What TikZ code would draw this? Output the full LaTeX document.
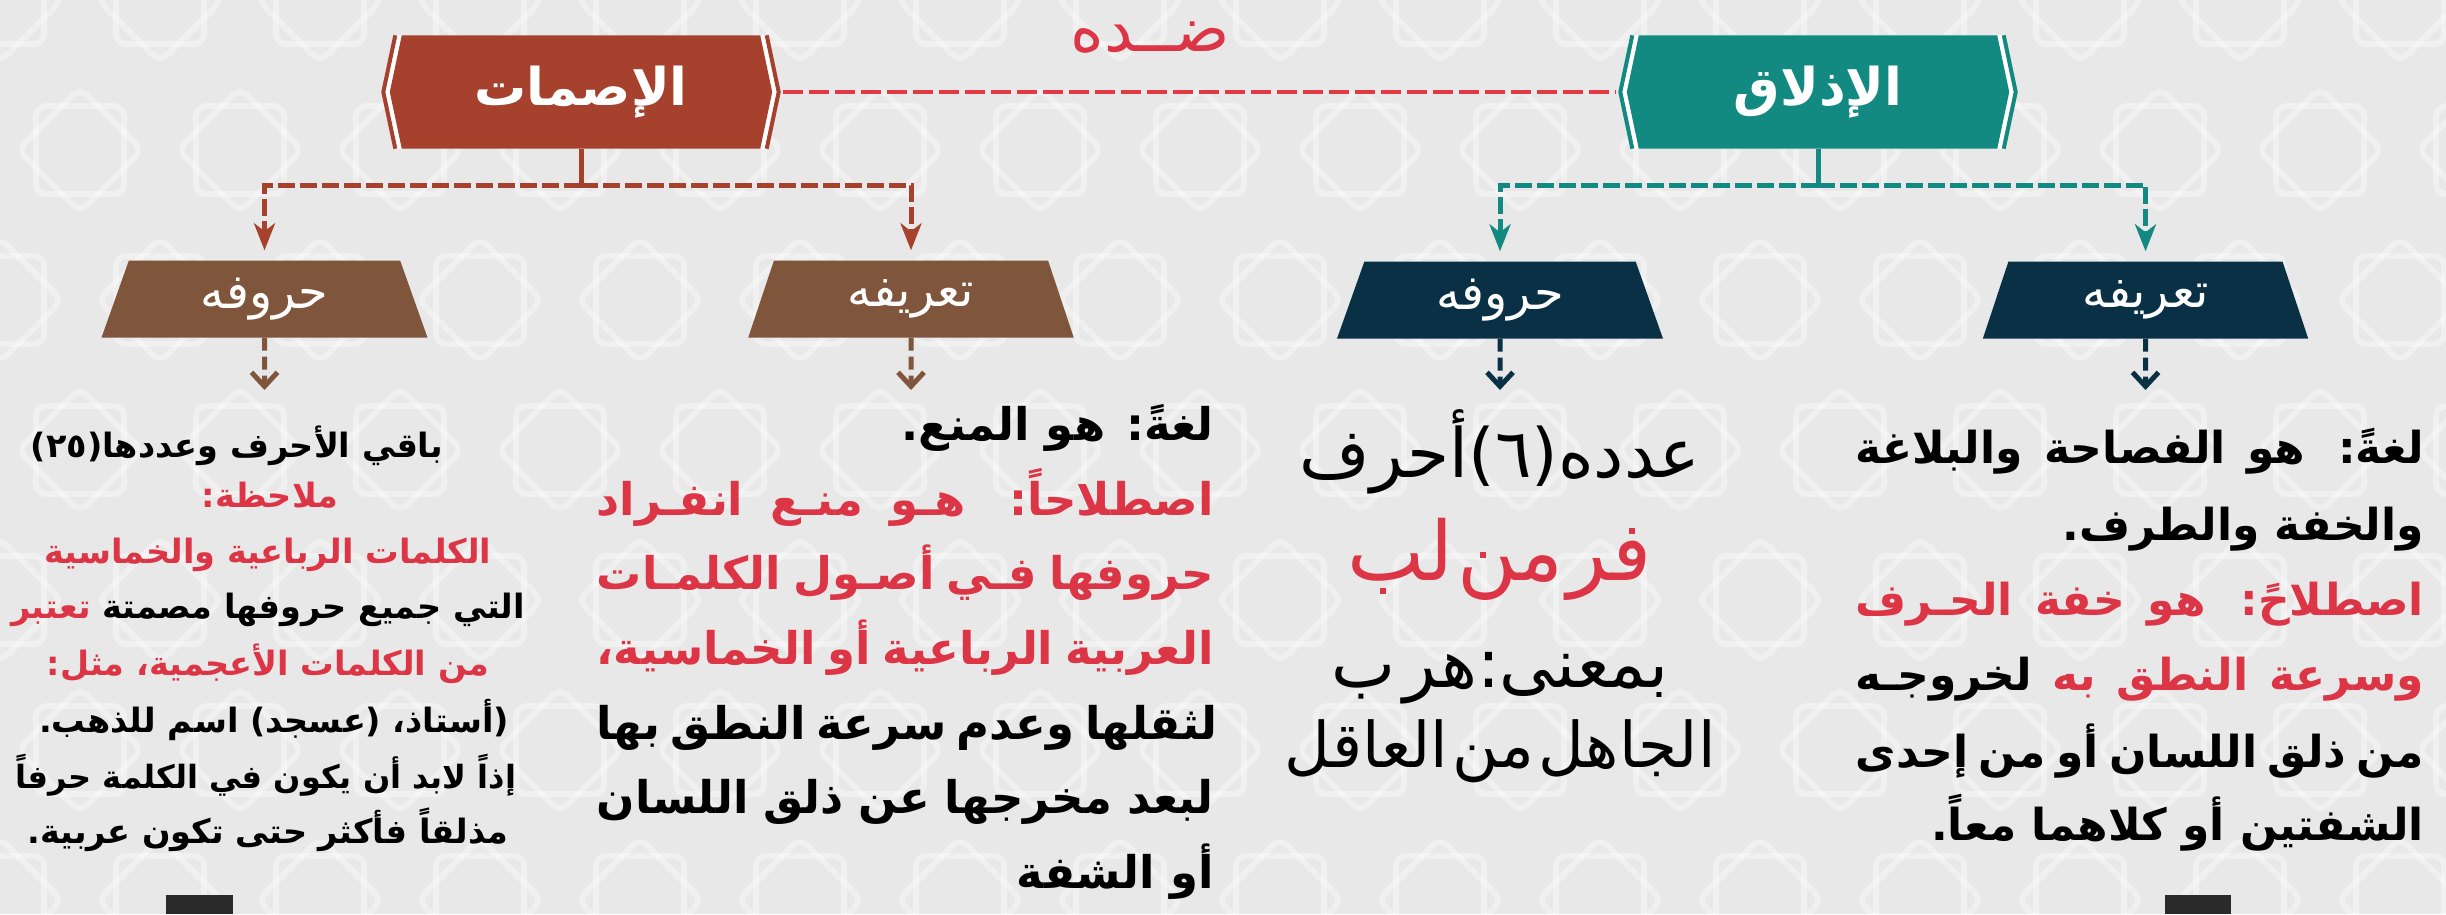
\documentclass[tikz,border=0pt]{standalone}
\usepackage{fontspec}
\usetikzlibrary{arrows.meta,shapes.geometric,backgrounds,calc}
\TeXXeTstate=1
\newfontfamily\arb[Script=Arabic]{DejaVu Sans}
\definecolor{ismatc}{HTML}{A5412C}
\definecolor{idhc}{HTML}{128A82}
\definecolor{brownc}{HTML}{7F553B}
\definecolor{navyc}{HTML}{0A3046}
\definecolor{redt}{HTML}{DC3545}
\definecolor{redl}{HTML}{E03A45}
\definecolor{bgc}{HTML}{E8E8E8}
\definecolor{darkc}{HTML}{2A2A2A}
\newcommand\RL[1]{\beginR #1\endR}
\newcommand\JL[2]{\hbox to #1{\beginR #2\endR}}
\newcommand\hexbox[2]{%
  \draw[#2, line width=4pt] ([xshift=-6.5pt]#1.north west) -- ([xshift=-18.5pt]#1.west) -- ([xshift=-6.5pt]#1.south west);
  \draw[white, line width=4pt] ([xshift=-2pt]#1.north west) -- ([xshift=-14pt]#1.west) -- ([xshift=-2pt]#1.south west);
  \draw[#2, line width=4pt] ([xshift=6.5pt]#1.north east) -- ([xshift=18.5pt]#1.east) -- ([xshift=6.5pt]#1.south east);
  \draw[white, line width=4pt] ([xshift=2pt]#1.north east) -- ([xshift=14pt]#1.east) -- ([xshift=2pt]#1.south east);
  \fill[#2] (#1.north west) -- (#1.north east) -- ([xshift=12pt]#1.east) -- (#1.south east) -- (#1.south west) -- ([xshift=-12pt]#1.west) -- cycle;}
\tikzset{
  titlebox/.style={minimum width=358pt, minimum height=113pt, inner sep=0pt, text=white, font=\arb\bfseries\fontsize{52}{56}\selectfont},
  trap/.style={trapezium, trapezium stretches=true, trapezium left angle=73, trapezium right angle=73, minimum width=326pt, minimum height=77pt, inner sep=0pt, text=white, font=\arb\fontsize{48}{52}\selectfont},
  conn/.style={line width=5pt, dash pattern=on 17pt off 5pt, -{Stealth[length=27pt,width=21pt,inset=8pt]}},
  stem/.style={line width=5pt},
  lowconn/.style={line width=5pt, dash pattern=on 13pt off 6pt, -{Straight Barb[length=14pt,width=26pt]}},
  redline/.style={redl, line width=4.5pt, dash pattern=on 20pt off 6pt},
  txt/.style={inner sep=0pt, font=\arb\bfseries\fontsize{45}{48}\selectfont},
  txtb/.style={inner sep=0pt, font=\arb\bfseries\fontsize{44}{48}\selectfont},
  smalltxt/.style={inner sep=0pt, font=\arb\bfseries\fontsize{33.5}{36}\selectfont},
  naskh/.style={inner sep=0pt, font=\arb\fontsize{68}{72}\selectfont},
  pat/.style={white, opacity=0.35, line width=6pt, rounded corners=10pt},
}
\begin{document}
\begin{tikzpicture}[x=1pt,y=-1pt]
\useasboundingbox (0,0) rectangle (2446,914);
\begin{scope}[on background layer]
  \fill[bgc] (0,0) rectangle (2446,914);
  \clip (0,0) rectangle (2446,914);
  \foreach \i in {0,...,16} {
    \foreach \j in {0,...,6} {
      \pgfmathsetmacro\xx{\i*160+mod(\j,2)*80}
      \pgfmathsetmacro\yy{\j*150}
      \draw[pat] (\xx,\yy) +(-44,-44) rectangle +(44,44);
      \draw[pat] (\xx,\yy) +(0,-62) -- +(62,0) -- +(0,62) -- +(-62,0) -- cycle;
    }
  }
\end{scope}
% titles
\node[titlebox] (ismat) at (581,92) {\RL{الإصمات}};
\node[titlebox] (idh) at (1818,92) {\RL{الإذلاق}};
\node[inner sep=0pt, text=redt, font=\arb\fontsize{64}{68}\selectfont] (didd) at (1150,38) {\RL{ضــده}};
\begin{scope}[on background layer]
  \hexbox{ismat}{ismatc}
  \hexbox{idh}{idhc}
\end{scope}
\draw[redline] ([xshift=23pt]ismat.east) -- ([xshift=-23pt]idh.west);
% trapezia
\node[trap, fill=brownc] (ihur) at (264.5,299) {\RL{حروفه}};
\node[trap, fill=brownc] (idef) at (911,299) {\RL{تعريفه}};
\node[trap, fill=navyc] (dhur) at (1500,300) {\RL{حروفه}};
\node[trap, fill=navyc] (ddef) at (2145.5,300) {\RL{تعريفه}};
% connectors from titles
\coordinate (ij) at (581,185);
\coordinate (dj) at (1818,185);
\draw[stem, ismatc] (ismat.south) -- (ij);
\draw[conn, ismatc, shorten >=10pt] (ij) -| (ihur.north);
\draw[conn, ismatc, shorten >=10pt] (ij) -| (idef.north);
\draw[stem, idhc] (idh.south) -- (dj);
\draw[conn, idhc, shorten >=10pt] (dj) -| (dhur.north);
\draw[conn, idhc, shorten >=10pt] (dj) -| (ddef.north);
% lower arrows
\coordinate (t1) at (264.5,390);
\coordinate (t2) at (911,390);
\coordinate (t3) at (1500,390);
\coordinate (t4) at (2145.5,390);
\draw[lowconn, brownc] (ihur.south) -- (t1);
\draw[lowconn, brownc] (idef.south) -- (t2);
\draw[lowconn, navyc] (dhur.south) -- (t3);
\draw[lowconn, navyc] (ddef.south) -- (t4);
% Ismat definition block
\node[txt, anchor=base east] (a1) at (1214,440) {\RL{لغةً: هو المنع.}};
\node[txt, anchor=base east, text=redt] (a2) at (1214,515) {\JL{617pt}{اصطلاحاً: هـو منـع انفـراد}};
\node[txt, anchor=base east, text=redt] (a3) at (1214,589) {\JL{617pt}{حروفها فـي أصـول الكلمـات}};
\node[txt, anchor=base east, text=redt] (a4) at (1214,664) {\JL{617pt}{العربية الرباعية أو الخماسية،}};
\node[txt, anchor=base east] (a5) at (1214,739) {\JL{617pt}{لثقلها وعدم سرعة النطق بها}};
\node[txt, anchor=base east] (a6) at (1214,813) {\JL{617pt}{لبعد مخرجها عن ذلق اللسان}};
\node[txt, anchor=base east] (a7) at (1214,888) {\RL{أو الشفة}};
% Idhlaq definition block
\node[txtb, anchor=base east] (b1) at (2424,463) {\JL{568pt}{لغةً: هو الفصاحة والبلاغة}};
\node[txtb, anchor=base east] (b2) at (2424,540) {\RL{والخفة والطرف.}};
\node[txtb, anchor=base east, text=redt] (b3) at (2424,615) {\JL{568pt}{اصطلاحً: هو خفة الحـرف}};
\node[txtb, anchor=base east] (b4) at (2424,690) {\hbox to 568pt{\RL{لخروجـه} {\color{redt}\RL{وسرعة النطق به}}}};
\node[txtb, anchor=base east] (b5) at (2424,767) {\JL{568pt}{من ذلق اللسان أو من إحدى}};
\node[txtb, anchor=base east] (b6) at (2424,840) {\RL{الشفتين أو كلاهما معاً.}};
% Ismat letters block
\node[smalltxt, anchor=base] (c1) at (237,457) {\RL{باقي الأحرف وعددها\hskip0pt(٢٥)}};
\node[smalltxt, anchor=base, text=redt] (c2) at (270,507) {\RL{ملاحظة:}};
\node[smalltxt, anchor=base, text=redt] (c3) at (268,563) {\RL{الكلمات الرباعية والخماسية}};
\node[smalltxt, anchor=base] (c4) at (268,618) {\hbox{{\color{redt}\RL{تعتبر}} \RL{التي جميع حروفها مصمتة}}};
\node[smalltxt, anchor=base, text=redt] (c5) at (268,675) {\RL{من الكلمات الأعجمية، مثل:}};
\node[smalltxt, anchor=base] (c6) at (274,732) {\hbox{\RL{أستاذ، (عسجد) اسم للذهب.}(}};
\node[smalltxt, anchor=base, font=\arb\bfseries\fontsize{32}{36}\selectfont] (c7) at (266,788) {\RL{إذاً لابد أن يكون في الكلمة حرفاً}};
\node[smalltxt, anchor=base] (c8) at (268,843) {\RL{مذلقاً فأكثر حتى تكون عربية.}};
% Idhlaq letters block
\node[naskh, anchor=base] (d1) at (1500,477) {\RL{عدده\hskip0pt(٦)\hskip0pt أحرف}};
\node[naskh, anchor=base, text=redt, font=\arb\fontsize{82}{86}\selectfont] (d2) at (1500,580) {\RL{فر\hskip4pt من\hskip4pt لب}};
\node[naskh, anchor=base] (d3) at (1500,687) {\RL{بمعنى:هر\hskip8pt ب}};
\node[naskh, anchor=base, font=\arb\fontsize{63}{66}\selectfont] (d4) at (1500,767) {\RL{الجاهل\hskip4pt من\hskip4pt العاقل}};
% cut-off dark marks at bottom
\fill[darkc] (166,895) rectangle (233,914);
\fill[darkc] (2165,895) rectangle (2231,914);
\end{tikzpicture}
\end{document}
